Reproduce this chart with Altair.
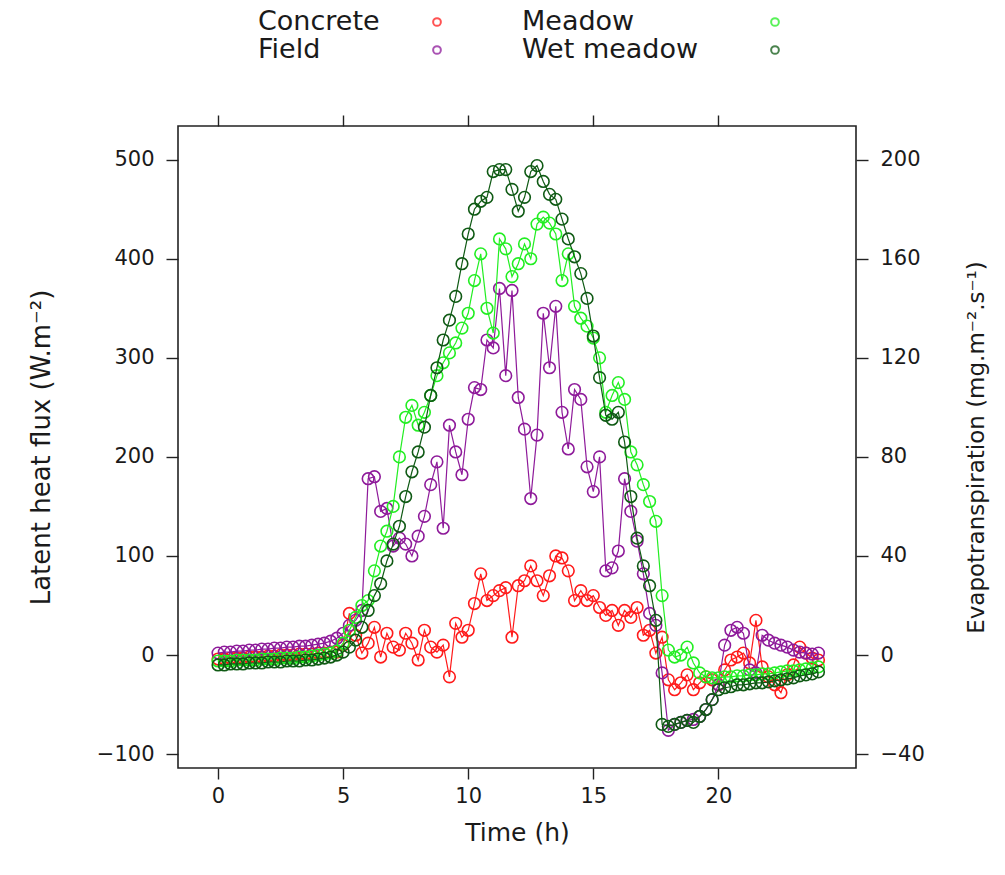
import altair as alt
import pandas as pd

# time grid (h), 15-min steps
times = [i * 0.25 for i in range(97)]

concrete = [-4, -4, -3, -3, -3, -2, -2, -2, -1, -1, 0, 0, 0, 1, 1, 1, 2, 2, 3, 3,
            10, 42, 20, 2, 12, 28, -2, 22, 8, 5, 22, 12, -5, 25, 8, 3, 10, -22, 32, 18,
            25, 52, 82, 55, 60, 65, 68, 18, 70, 75, 90, 75, 60, 80, 100, 98, 85, 55, 65, 55,
            60, 48, 40, 45, 30, 45, 38, 48, 20, 25, 2, 18, -25, -35, -28, -20, -35, -28, -22, -25,
            -30, -15, -5, -2, 2, -8, 35, -12, -22, -30, -38, -20, -10, 8, 2, -3, -5]

field = [2, 3, 3, 4, 4, 5, 5, 6, 6, 7, 7, 8, 8, 9, 9, 10, 11, 12, 14, 17,
         22, 30, 35, 45, 178, 180, 145, 148, 110, 118, 112, 100, 120, 140, 172, 195, 128, 232, 205, 182,
         238, 270, 268, 318, 310, 370, 282, 368, 260, 228, 158, 222, 345, 290, 352, 245, 208, 268, 258, 190,
         165, 200, 85, 88, 105, 178, 145, 115, 82, 42, 30, -18, -76, -70, -68, -66, -65, -62, -55, -45,
         -30, 10, 25, 28, 22, -15, -18, 20, 15, 12, 10, 8, 5, 3, 2, 1, 2]

meadow = [-6, -6, -6, -5, -5, -5, -5, -4, -4, -4, -3, -3, -3, -2, -2, -1, 0, 1, 2, 4,
          12, 25, 38, 50, 55, 85, 110, 125, 150, 200, 240, 252, 232, 245, 262, 282, 295, 305, 315, 330,
          345, 378, 405, 350, 325, 420, 410, 382, 395, 415, 400, 435, 442, 436, 425, 378, 405, 352, 340, 332,
          320, 300, 245, 262, 275, 258, 205, 192, 172, 155, 135, 60, 5, -2, 0, 8, -8, -18, -22, -23,
          -23, -22, -22, -21, -21, -20, -20, -19, -19, -18, -17, -16, -16, -15, -14, -13, -12]

wet_meadow = [-10, -10, -9, -9, -9, -8, -8, -8, -7, -7, -7, -6, -6, -6, -5, -5, -4, -3, -2, 0,
              3, 8, 15, 28, 45, 60, 72, 95, 112, 130, 160, 185, 205, 230, 262, 290, 318, 338, 362, 395,
              425, 450, 458, 462, 488, 490, 490, 470, 448, 462, 488, 494, 478, 465, 460, 440, 420, 402, 385, 360,
              322, 280, 242, 238, 245, 215, 160, 118, 90, 70, 35, -70, -72, -70, -68, -66, -68, -62, -55, -45,
              -35, -33, -32, -30, -30, -29, -28, -28, -27, -26, -25, -24, -23, -21, -20, -19, -17]

names = ["Concrete", "Field", "Meadow", "Wet meadow"]
colors = ["#ff1a1a", "#8e1a9a", "#22ee22", "#0f5a14"]
series = [concrete, field, meadow, wet_meadow]

FONT = "DejaVu Sans"
TXT = "#1a1a1a"
xdom = [-1.6, 25.5]
ydom = [-114, 534]

X = alt.X("t:Q", scale=alt.Scale(domain=xdom, nice=False, zero=False), axis=None)
Y = alt.Y("le:Q", scale=alt.Scale(domain=ydom, nice=False, zero=False), axis=None)

layers = []
for name, vals, col in zip(names, series, colors):
    df = pd.DataFrame({"t": times, "le": vals, "site": name})
    base = alt.Chart(df)
    layers.append(base.mark_line(color=col, strokeWidth=1.2).encode(x=X, y=Y))
    layers.append(base.mark_point(shape="circle", filled=False, color=col, size=135,
                                  strokeWidth=1.6, opacity=1).encode(x=X, y=Y))

dummy = pd.DataFrame({"t": [0.0], "le": [0.0]})
axes_lb = alt.Chart(dummy).mark_point(opacity=0).encode(
    x=alt.X("t:Q", scale=alt.Scale(domain=xdom, nice=False, zero=False),
            axis=alt.Axis(orient="bottom", values=[0, 5, 10, 15, 20], title="Time (h)",
                          tickSize=11, labelPadding=6, titlePadding=14)),
    y=alt.Y("le:Q", scale=alt.Scale(domain=ydom, nice=False, zero=False),
            axis=alt.Axis(orient="left", values=[-100, 0, 100, 200, 300, 400, 500],
                          title="Latent heat flux (W.m⁻²)", tickSize=12, labelPadding=12,
                          titlePadding=42, titleFontSize=26)),
)
axes_rt = alt.Chart(dummy).mark_point(opacity=0).encode(
    x=alt.X("t:Q", scale=alt.Scale(domain=xdom, nice=False, zero=False),
            axis=alt.Axis(orient="top", values=[0, 5, 10, 15, 20], labels=False, title=None,
                          tickSize=11)),
    y=alt.Y("le:Q", scale=alt.Scale(domain=ydom, nice=False, zero=False),
            axis=alt.Axis(orient="right", values=[-100, 0, 100, 200, 300, 400, 500],
                          labelExpr="format(datum.value / 2.5, 'd')",
                          title="Evapotranspiration (mg.m⁻².s⁻¹)", titleAngle=270,
                          titleFontSize=23,
                          tickSize=12, labelPadding=12, titlePadding=64)),
)

# legend (label then symbol, two columns)
leg_layers = []
leg_pos = [(80, -104, 259), (80, -76, 259), (344, -104, 597), (344, -76, 597)]
for name, col, (tx, ty, sx) in zip(names, colors, leg_pos):
    ld = pd.DataFrame({"label": [name]})
    leg_layers.append(alt.Chart(ld).mark_text(align="left", baseline="middle", fontSize=27,
                                              font=FONT, color=TXT).encode(
        x=alt.value(tx), y=alt.value(ty), text="label:N"))
    leg_layers.append(alt.Chart(ld).mark_point(shape="circle", filled=False, color=col, size=60,
                                               strokeWidth=2, opacity=0.75).encode(
        x=alt.value(sx), y=alt.value(ty)))

chart = alt.layer(axes_lb, axes_rt, *layers, *leg_layers).resolve_axis(
    x="independent", y="independent"
).properties(
    width=678, height=642,
    background="white",
    autosize=alt.AutoSizeParams(type="none"),
    padding={"left": 178, "top": 126, "right": 149, "bottom": 107},
).configure_view(
    stroke="#222", strokeWidth=1.6
).configure_axis(
    domain=False, tickColor="#222", tickWidth=1.4, labelFont=FONT, titleFont=FONT,
    labelFontSize=21, titleFontSize=25, labelColor=TXT, titleColor=TXT, titleFontWeight="normal",
    grid=False
)

chart.save("out.html", embed_options={"renderer": "svg", "actions": False})
